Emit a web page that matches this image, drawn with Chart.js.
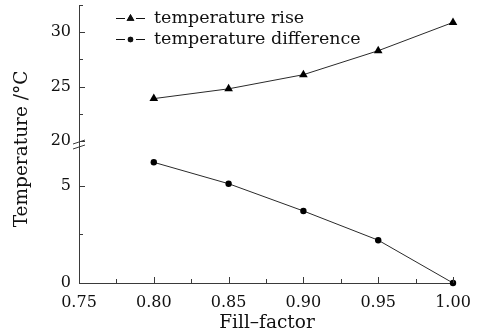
<!DOCTYPE html>
<html>
<head>
<meta charset="utf-8">
<script src="https://cdn.jsdelivr.net/npm/chart.js@4/dist/chart.umd.min.js"></script>
<style>
  html, body { margin: 0; padding: 0; background: #ffffff; }
  #wrap { width: 493px; height: 336px; position: relative; }
</style>
</head>
<body>
<div id="wrap"><canvas id="c" width="493" height="336"></canvas></div>
<script>
// ---- data ----
const fillFactor = [0.80, 0.85, 0.90, 0.95, 1.00];
const tempRise = [23.9, 24.8, 26.1, 28.3, 30.9];
const tempDiff = [6.2, 5.1, 3.7, 2.2, 0.0];
const seriesNames = ['temperature rise', 'temperature difference'];

const xMajorTicks = [0.75, 0.80, 0.85, 0.90, 0.95, 1.00];
const xMinorTicks = [0.775, 0.825, 0.875, 0.925, 0.975];
const yTopMajorTicks = [20, 25, 30];
const yTopMinorTicks = [22.5, 27.5];
const yBotMajorTicks = [0, 5];
const yBotMinorTicks = [2.5];

const xTitle = 'Fill\u2013factor';
const yTitle = 'Temperature /\u00B0C';

const INK = '#111111';
const AXIS = '#3a3a3a';
const FONT = 'DejaVu Serif';

Chart.defaults.font.family = FONT;
Chart.defaults.color = INK;

function tickList(major, minor) {
  return major.concat(minor).sort((a, b) => a - b).map(v => ({ value: v }));
}
function isMajor(list, v) {
  return list.some(m => Math.abs(m - v) < 1e-9);
}
function fitY(s) {
  s.width = 79;
  s.paddingTop = 0;
  s.paddingBottom = 0;
}

const extras = {
  id: 'extras',
  afterDraw(chart) {
    const ctx = chart.ctx;
    const xs = chart.scales.x, yt = chart.scales.yTop, yb = chart.scales.yBot;
    ctx.save();
    ctx.strokeStyle = AXIS;
    ctx.lineWidth = 1;
    // inward tick marks on x
    const xAxisY = xs.top;
    xs.ticks.forEach(t => {
      const px = Math.round(xs.getPixelForValue(t.value)) + 0.5;
      const len = isMajor(xMajorTicks, t.value) ? 6 : 4;
      ctx.beginPath(); ctx.moveTo(px, xAxisY); ctx.lineTo(px, xAxisY - len); ctx.stroke();
    });
    // inward tick marks on y axes
    [[yt, yTopMajorTicks], [yb, yBotMajorTicks]].forEach(([s, maj]) => {
      const ax = s.right;
      s.ticks.forEach(t => {
        const py = Math.round(s.getPixelForValue(t.value)) + 0.5;
        const len = isMajor(maj, t.value) ? 6 : 4;
        ctx.beginPath(); ctx.moveTo(ax, py); ctx.lineTo(ax + len, py); ctx.stroke();
      });
    });
    // small cap tick at the top end of the axis
    ctx.beginPath(); ctx.moveTo(yt.right, yt.top + 0.5); ctx.lineTo(yt.right + 4, yt.top + 0.5); ctx.stroke();
    // axis break marks
    const bx = yt.right, by = yt.bottom;
    ctx.beginPath();
    ctx.moveTo(bx - 6, by - 1); ctx.lineTo(bx + 6, by - 5);
    ctx.moveTo(bx - 6, by + 4); ctx.lineTo(bx + 6, by);
    ctx.stroke();

    // axis titles
    ctx.fillStyle = INK;
    ctx.font = '18.5px ' + FONT;
    ctx.textAlign = 'center';
    ctx.textBaseline = 'middle';
    ctx.fillText(xTitle, 267, 323);
    ctx.save();
    ctx.translate(22, 149);
    ctx.rotate(-Math.PI / 2);
    ctx.fillText(yTitle, 0, 0);
    ctx.restore();

    // legend
    ctx.font = '17.5px ' + FONT;
    chart.data.datasets.forEach((ds, i) => {
      const y = 18.5 + i * 21;
      ctx.strokeStyle = INK;
      ctx.beginPath();
      ctx.moveTo(116, y); ctx.lineTo(125, y);
      ctx.moveTo(136, y); ctx.lineTo(145, y);
      ctx.stroke();
      Chart.helpers.drawPoint(ctx, {
        pointStyle: ds.pointStyle, radius: ds.pointRadius - 0.5, rotation: 0, borderWidth: 0
      }, 130.5, y);
      ctx.fillStyle = INK;
      ctx.fill();
      ctx.textAlign = 'left';
      ctx.fillText(ds.label, 154, y);
    });
    ctx.restore();
  }
};

new Chart(document.getElementById('c'), {
  type: 'line',
  data: {
    datasets: [
      {
        label: seriesNames[0],
        data: fillFactor.map((x, i) => ({ x, y: tempRise[i] })),
        yAxisID: 'yTop',
        borderColor: '#2a2a2a', borderWidth: 1,
        pointStyle: 'triangle', pointRadius: 5,
        pointBackgroundColor: '#000', pointBorderColor: '#000', pointBorderWidth: 0,
        clip: false
      },
      {
        label: seriesNames[1],
        data: fillFactor.map((x, i) => ({ x, y: tempDiff[i] })),
        yAxisID: 'yBot',
        borderColor: '#2a2a2a', borderWidth: 1,
        pointStyle: 'circle', pointRadius: 3.2,
        pointBackgroundColor: '#000', pointBorderColor: '#000', pointBorderWidth: 0,
        clip: false
      }
    ]
  },
  options: {
    responsive: false,
    animation: false,
    events: [],
    layout: { padding: { top: 5, right: 40, left: 0, bottom: 0 } },
    plugins: { legend: { display: false }, tooltip: { enabled: false } },
    scales: {
      x: {
        type: 'linear', position: 'bottom',
        min: 0.75, max: 1.0,
        afterBuildTicks: s => { s.ticks = tickList(xMajorTicks, xMinorTicks); },
        afterFit: s => { s.height = 53; },
        ticks: {
          autoSkip: false, maxRotation: 0, padding: 10,
          font: { size: 16 }, color: INK,
          callback: v => isMajor(xMajorTicks, v) ? xMajorTicks.find(m => Math.abs(m - v) < 1e-9).toFixed(2) : ''
        },
        grid: { display: false, drawTicks: false },
        border: { display: true, color: AXIS, width: 1 }
      },
      yBot: {
        type: 'linear', position: 'left', stack: 'y', stackWeight: 138,
        min: 0, max: 7.09,
        afterBuildTicks: s => { s.ticks = tickList(yBotMajorTicks, yBotMinorTicks); },
        afterFit: fitY,
        ticks: {
          autoSkip: false, padding: 8, font: { size: 16 }, color: INK,
          callback: v => isMajor(yBotMajorTicks, v) ? String(v) : ''
        },
        grid: { display: false, drawTicks: false },
        border: { display: true, color: AXIS, width: 1 }
      },
      yTop: {
        type: 'linear', position: 'left', stack: 'y', stackWeight: 140,
        min: 19.64, max: 32.5,
        afterBuildTicks: s => { s.ticks = tickList(yTopMajorTicks, yTopMinorTicks); },
        afterFit: fitY,
        ticks: {
          autoSkip: false, padding: 8, font: { size: 16 }, color: INK,
          callback: v => isMajor(yTopMajorTicks, v) ? String(v) : ''
        },
        grid: { display: false, drawTicks: false },
        border: { display: true, color: AXIS, width: 1 }
      }
    }
  },
  plugins: [extras]
});
</script>
</body>
</html>
